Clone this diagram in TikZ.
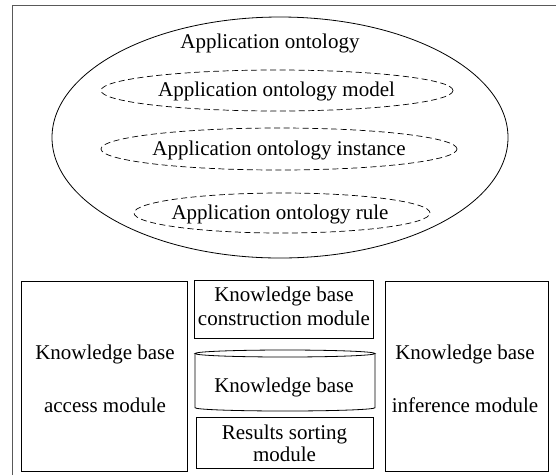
\documentclass[tikz,border=0pt]{standalone}
\usepackage{fontspec}
\setmainfont{Liberation Serif}
\usetikzlibrary{shapes.geometric}
\begin{document}
\begin{tikzpicture}[x=1pt,y=-1pt,
  lbl/.style={font=\fontsize{21}{24}\selectfont, inner sep=0pt, anchor=base},
  box/.style={draw, line width=0.8pt, inner sep=0pt, anchor=north west},
  solidell/.style={draw, ellipse, line width=0.8pt, inner sep=0pt},
  dashell/.style={draw, ellipse, dash pattern=on 6pt off 3.5pt, line width=0.7pt, inner sep=0pt}]
\useasboundingbox (0,0) rectangle (556,475);
% outer frame (cropped)
\draw[line width=1.5pt, black!65] (12.7,475) -- (12.7,5.7) -- (556,5.7);
% ontology ellipses
\node[solidell, minimum width=456pt, minimum height=241pt] (onto) at (280,137.5) {};
\node[lbl] (ontot) at (270,48) {Application ontology};
\node[dashell, minimum width=352pt, minimum height=41pt] (e1) at (277,90.5) {};
\node[lbl] (e1t) at (276.5,96) {Application ontology model};
\node[dashell, minimum width=356pt, minimum height=42pt] (e2) at (279,149) {};
\node[lbl] (e2t) at (279,155) {Application ontology instance};
\node[dashell, minimum width=296pt, minimum height=40pt] (e3) at (282,213) {};
\node[lbl] (e3t) at (280,219) {Application ontology rule};
% left box
\node[box, minimum width=166pt, minimum height=190pt] (lbox) at (21,281) {};
\node[lbl] (lt1) at (105,359) {Knowledge base};
\node[lbl] (lt2) at (105,412) {access module};
% right box
\node[box, minimum width=163pt, minimum height=190pt] (rbox) at (385,281) {};
\node[lbl] (rt1) at (465,359) {Knowledge base};
\node[lbl] (rt2) at (465,412) {inference module};
% center top box
\node[box, minimum width=179pt, minimum height=58pt] (cbox) at (194,280) {};
\node[lbl] (ct1) at (284,301.5) {Knowledge base};
\node[lbl] (ct2) at (284,325.5) {construction module};
% cylinder
\draw[line width=0.8pt] (285,353.5) ellipse [x radius=90, y radius=3.5];
\draw[line width=0.8pt] (195,353.5) -- (195,407.7) arc[start angle=180, end angle=0, x radius=90, y radius=3.3] -- (375,353.5);
\node[lbl] (kbt) at (284,392.5) {Knowledge base};
% bottom box
\node[box, minimum width=177pt, minimum height=51pt] (sbox) at (196,417) {};
\node[lbl] (st1) at (284.5,439.3) {Results sorting};
\node[lbl] (st2) at (284.5,461.7) {module};
\end{tikzpicture}
\end{document}
